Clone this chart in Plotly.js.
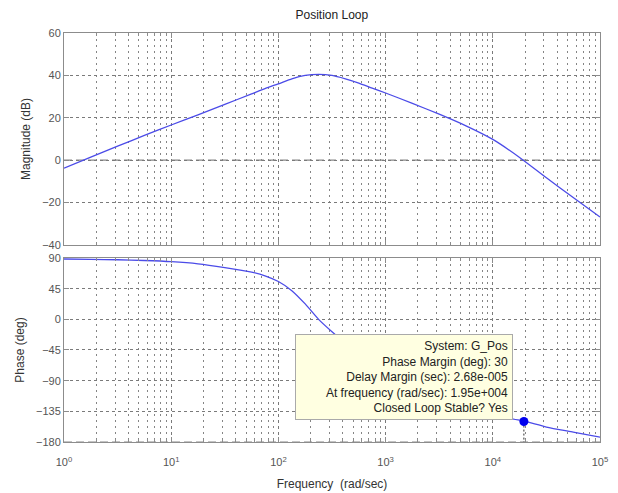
<!DOCTYPE html>
<html>
<head>
<meta charset="utf-8">
<script src="https://cdn.plot.ly/plotly-3.0.1.min.js"></script>
<style>html,body{margin:0;padding:0;background:#fff;}#chart{width:618px;height:493px;}</style>
</head>
<body>
<div id="chart"></div>
<script>
// ---- data ----
const freq = [1, 1.778, 3.162, 5.623, 10, 17.78, 31.62, 56.23, 74.99, 100, 133.4, 177.8, 237.1, 316.2, 421.7, 562.3, 749.9, 1000, 1778, 3162, 5623, 10000, 17780, 31620, 56230, 100000];
const magDb = [-3.8, 1.4, 6.6, 11.7, 16.6, 21.4, 26.3, 31.3, 33.8, 36.0, 38.4, 40.0, 40.5, 40.0, 38.4, 36.4, 34.0, 31.7, 26.8, 21.7, 16.2, 9.8, 1.3, -8.3, -17.6, -26.8];
const phaseDeg = [88.5, 88.0, 87.4, 86.3, 84.6, 81.5, 76.0, 69.3, 63.9, 55.5, 42.1, 22.6, 0, -18.2, -35, -51, -66, -80, -104, -122, -134, -142, -148, -158, -165.5, -173];
const crossFreq = 1.95e4;      // rad/sec
const phaseMargin = 30;        // deg
const xTickVals = [1, 10, 100, 1000, 10000, 100000];
const xTickText = ['10<sup>0</sup>', '10<sup>1</sup>', '10<sup>2</sup>', '10<sup>3</sup>', '10<sup>4</sup>', '10<sup>5</sup>'];
const magTicks = [-40, -20, 0, 20, 40, 60];
const phaseTicks = [-180, -135, -90, -45, 0, 45, 90];
const infoLines = ['System: G_Pos', 'Phase Margin (deg): 30', 'Delay Margin (sec): 2.68e-005', 'At frequency (rad/sec): 1.95e+004', 'Closed Loop Stable? Yes'];

// minor log tick positions (2..9 per decade)
const minorVals = [];
for (let d = 1; d < 100000; d *= 10) { for (let m = 2; m <= 9; m++) minorVals.push(m * d); }

const FONT = 'Liberation Sans, Arial, Helvetica, sans-serif';
const lineColor = '#4b4be8';
const gridMajor = '#7a7a7a';
const gridMinor = '#858585';
const frame = '#8c8c8c';

const traces = [
  {x: freq, y: magDb, xaxis: 'x2', yaxis: 'y2', mode: 'lines', line: {color: lineColor, width: 1.3, shape: 'spline', smoothing: 0.6}, hoverinfo: 'skip'},
  {x: freq, y: phaseDeg, xaxis: 'x', yaxis: 'y', mode: 'lines', line: {color: lineColor, width: 1.3, shape: 'spline', smoothing: 0.6}, hoverinfo: 'skip'},
  {x: [crossFreq, crossFreq], y: [phaseMargin - 180, -180], xaxis: 'x', yaxis: 'y', mode: 'lines', line: {color: '#333', width: 1, dash: '2px,2px'}, hoverinfo: 'skip'},
  {x: [crossFreq], y: [phaseMargin - 180], xaxis: 'x', yaxis: 'y', mode: 'markers', marker: {color: '#0000ee', size: 9}, hoverinfo: 'skip'}
];

function xAxis(anchor, labels) {
  return {
    type: 'log', range: [0, 5], anchor: anchor,
    tickmode: 'array', tickvals: xTickVals, ticktext: xTickText, showticklabels: labels,
    ticks: 'inside', ticklen: 5, tickcolor: frame, ticklabelstandoff: 10,
    showline: true, linecolor: frame, linewidth: 1, mirror: 'allticks',
    showgrid: true, gridcolor: gridMajor, griddash: '3px,3px', gridwidth: 1,
    zeroline: false,
    tickfont: {family: FONT, size: 11, color: '#555'},
    minor: {tickmode: 'array', tickvals: minorVals, ticks: 'inside', ticklen: 3, tickcolor: frame,
            showgrid: true, gridcolor: gridMinor, griddash: '2px,4px', gridwidth: 1}
  };
}

const layout = {
  width: 618, height: 493,
  margin: {l: 64, r: 18, t: 33, b: 51},
  paper_bgcolor: '#fff', plot_bgcolor: '#fff',
  showlegend: false,
  font: {family: FONT, color: '#333'},
  title: {text: 'Position Loop', font: {family: FONT, size: 12, color: '#222'}, x: 0.537, xanchor: 'center', y: 1 - 15/493, yanchor: 'middle', yref: 'container'},
  xaxis: Object.assign(xAxis('y', true), {
    title: {text: 'Frequency\u00a0 (rad/sec)', font: {family: FONT, size: 12, color: '#333'}, standoff: 12}
  }),
  xaxis2: Object.assign(xAxis('y2', false), {matches: 'x'}),
  yaxis: {
    domain: [0, 0.4499], range: [-180, 90],
    tickmode: 'array', tickvals: phaseTicks,
    ticks: 'inside', ticklen: 5, tickcolor: frame,
    showline: true, linecolor: frame, mirror: 'allticks',
    showgrid: true, gridcolor: gridMajor, griddash: '3px,3px', zeroline: false,
    tickfont: {family: FONT, size: 11, color: '#555'},
    title: {text: 'Phase (deg)', font: {family: FONT, size: 12, color: '#333'}, standoff: 8}
  },
  yaxis2: {
    domain: [0.4817, 1], range: [-40, 60],
    tickmode: 'array', tickvals: magTicks,
    ticks: 'inside', ticklen: 5, tickcolor: frame,
    showline: true, linecolor: frame, mirror: 'allticks',
    showgrid: true, gridcolor: gridMajor, griddash: '3px,3px', zeroline: false,
    tickfont: {family: FONT, size: 11, color: '#555'},
    title: {text: 'Magnitude (dB)', font: {family: FONT, size: 12, color: '#333'}, standoff: 8}
  },
  shapes: [
    {type: 'line', xref: 'x2 domain', yref: 'y2', x0: 0, x1: 1, y0: 0, y1: 0, line: {color: '#888', width: 1.2, dash: '8px,4px'}, layer: 'below'},
    {type: 'line', xref: 'x domain', yref: 'y', x0: 0, x1: 1, y0: -180, y1: -180, line: {color: '#888', width: 1.2, dash: '8px,4px'}, layer: 'below'}
  ],
  annotations: [{
    xref: 'paper', yref: 'paper', x: (513 - 64) / 536, y: (442 - 334) / 409,
    xanchor: 'right', yanchor: 'top', align: 'right', showarrow: false,
    width: 208,
    text: infoLines.join('<br>'),
    font: {family: FONT, size: 12, color: '#222'},
    bgcolor: '#ffffe1', bordercolor: '#aaa', borderwidth: 1, borderpad: 4
  }]
};

Plotly.newPlot('chart', traces, layout, {staticPlot: true, displayModeBar: false});
</script>
</body>
</html>
